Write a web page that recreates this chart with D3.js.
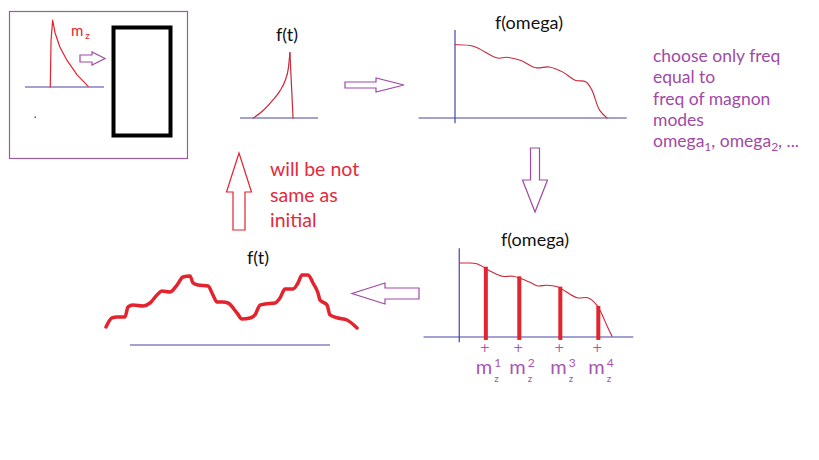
<!DOCTYPE html>
<html>
<head>
<meta charset="utf-8">
<script src="https://cdn.jsdelivr.net/npm/d3@7"></script>
<style>
  body { margin: 0; background: #fff; }
  svg { display: block; font-family: Lato, 'Open Sans', sans-serif; }
</style>
</head>
<body>
<svg id="chart" width="819" height="460"></svg>
<script>
// ---- data (time / frequency in arbitrary units 0..10, amplitude 0..10) ----
const mzTime = [3.2, 3.3, 3.5, 3.8, 4.4, 5.3, 6.6, 8.0]
const mzValue = [0, 7, 10, 8.1, 6, 4, 1.8, 0.1]

const pulseTime = [1.7, 2.9, 4.2, 5.1, 5.8, 6.2, 6.4, 6.8]
const pulseValue = [0, 1.1, 2.8, 4.2, 5.9, 7.8, 10.2, 0]

const specOmega = [0, 1.2, 2.8, 3.4, 4.3, 5.3, 6.2, 7.1, 7.9, 8.6, 9.0, 9.5, 10]
const specValue = [9.9, 9.7, 8.1, 8.2, 7.8, 6.8, 6.9, 6.2, 5.1, 4.9, 3.8, 1.1, 0]

const spec2Omega = [0, 0.5, 1.1, 2.0, 2.8, 3.5, 4.6, 5.1, 5.7, 6.4, 7.7, 8.4, 9.0, 9.7, 10]
const spec2Value = [10, 10, 9.9, 8.9, 8.2, 8.2, 7.4, 6.9, 7.0, 6.8, 5.3, 5.3, 4.3, 1.4, 0.1]

const modeOmega = [1.7, 3.9, 6.6, 9.1]
const modeValue = [9.5, 8.2, 6.8, 4.2]
const modeLabels = ['1', '2', '3', '4']

const recTime = [-1.2, -0.9, -0.65, -0.25, -0.1, 0.15, 0.65, 1.0, 1.35, 1.6, 2.0, 2.35, 2.65, 3.0,
  3.15, 3.4, 3.9, 4.15, 4.35, 4.65, 4.9, 5.35, 5.6, 6.0, 6.25, 6.5, 6.75, 7.25, 7.5, 7.75,
  8.15, 8.4, 8.6, 8.9, 9.15, 9.4, 9.5, 9.85, 10.0, 10.4, 10.85, 11.35]
const recValue = [2.57, 3.86, 4.0, 4.0, 5.43, 5.71, 5.57, 6.0, 7.14, 7.71, 7.57, 8.57, 9.71, 9.86,
  8.86, 8.57, 8.43, 7.14, 6.14, 6.14, 6.0, 4.57, 3.71, 3.86, 4.29, 5.71, 5.86, 6.0, 6.71, 8.0,
  8.0, 8.86, 10.0, 10.0, 8.86, 7.43, 6.43, 5.71, 4.29, 3.86, 3.57, 2.43]

const noteLines = ['choose only freq', 'equal to', 'freq of magnon', 'modes']
const redLines = ['will be not', 'same as', 'initial']

const BLUE = '#4545a5'
const RED = '#e3232d'
const PURPLE = '#a04aa5'

const svg = d3.select('#chart')
svg.append('rect').attr('width', 819).attr('height', 460).attr('fill', '#fff')

/**
 * Draws an outlined block arrow from tail to tip
 */
function blockArrow (x1, y1, x2, y2, sw, hw, hl, color) {
  const len = Math.hypot(x2 - x1, y2 - y1)
  const ang = Math.atan2(y2 - y1, x2 - x1) * 180 / Math.PI
  const pts = [[0, -sw], [len - hl, -sw], [len - hl, -hw], [len, 0],
    [len - hl, hw], [len - hl, sw], [0, sw]]
  svg.append('polygon')
    .attr('points', pts.map(p => p.join(',')).join(' '))
    .attr('transform', 'translate(' + x1 + ',' + y1 + ') rotate(' + ang + ')')
    .attr('fill', '#fff')
    .attr('stroke', color)
    .attr('stroke-width', 1.2)
}

function hline (x, y, xMin, xMax) {
  svg.append('line').attr('x1', x(xMin)).attr('x2', x(xMax))
    .attr('y1', y(0)).attr('y2', y(0))
    .attr('stroke', BLUE).attr('stroke-width', 1.2)
}

function vline (x, y, yMin, yMax) {
  svg.append('line').attr('x1', x(0)).attr('x2', x(0))
    .attr('y1', y(yMin)).attr('y2', y(yMax))
    .attr('stroke', BLUE).attr('stroke-width', 1.2)
}

function curve (xs, ys, x, y, color, width, type) {
  const pts = xs.map((d, i) => [x(d), y(ys[i])])
  svg.append('path')
    .attr('d', d3.line().curve(type)(pts))
    .attr('fill', 'none')
    .attr('stroke', color)
    .attr('stroke-width', width)
    .attr('stroke-linejoin', 'round')
    .attr('stroke-linecap', 'round')
}

function title (txt, cx, by) {
  svg.append('text').attr('x', cx).attr('y', by)
    .attr('text-anchor', 'middle').attr('font-size', 18).attr('fill', '#111')
    .text(txt)
}

// ---- panel 1 : initial m_z pulse into the sample ----
svg.append('rect').attr('x', 9.5).attr('y', 11.5).attr('width', 178).attr('height', 147)
  .attr('fill', 'none').attr('stroke', '#9a5a9e').attr('stroke-width', 1.2)
svg.append('rect').attr('x', 113.5).attr('y', 27.5).attr('width', 57).attr('height', 108)
  .attr('fill', 'none').attr('stroke', '#000').attr('stroke-width', 4)

const mzX = d3.scaleLinear().domain([0, 10]).range([25, 104])
const mzY = d3.scaleLinear().domain([0, 10]).range([87, 20])
hline(mzX, mzY, 0, 10)
curve(mzTime, mzValue, mzX, mzY, RED, 1.2, d3.curveLinear)
const mzLbl = svg.append('text').attr('x', 71).attr('y', 36).attr('fill', RED).attr('font-size', 15)
mzLbl.append('tspan').text('m')
mzLbl.append('tspan').attr('dx', 2).attr('dy', 3).attr('font-size', 10).text('z')
svg.append('rect').attr('x', 34.5).attr('y', 116.5).attr('width', 1.5).attr('height', 1.5).attr('fill', '#555')
blockArrow(80, 58.5, 105, 58.5, 3.5, 6.5, 13, PURPLE)

// ---- panel 2 : f(t) ----
const pX = d3.scaleLinear().domain([0, 10]).range([240, 318])
const pY = d3.scaleLinear().domain([0, 10]).range([118, 54])
hline(pX, pY, 0, 10)
curve(pulseTime.slice(0, 7), pulseValue.slice(0, 7), pX, pY, '#c8283a', 1.2, d3.curveMonotoneX)
curve(pulseTime.slice(6), pulseValue.slice(6), pX, pY, '#c8283a', 1.2, d3.curveLinear)
title('f(t)', 287, 41)

blockArrow(345, 85, 404, 85, 3, 7, 28, PURPLE)

// ---- panel 3 : f(omega) ----
const sX = d3.scaleLinear().domain([0, 10]).range([455, 607])
const sY = d3.scaleLinear().domain([0, 10]).range([118, 44])
hline(sX, sY, -2.4, 11.3)
vline(sX, sY, -0.7, 11.9)
curve(specOmega, specValue, sX, sY, '#c8283a', 1.1, d3.curveCatmullRom)
title('f(omega)', 529, 29)

// note text on the right
const note = svg.append('g').attr('fill', PURPLE).attr('font-size', 17.5)
noteLines.forEach((t, i) => {
  note.append('text').attr('x', 653).attr('y', 62 + i * 21.3).text(t)
})
const last = note.append('text').attr('x', 653).attr('y', 62 + 4 * 21.3)
last.append('tspan').text('omega')
last.append('tspan').attr('dy', 4).attr('font-size', 12).text('1')
last.append('tspan').attr('dy', -4).text(', omega')
last.append('tspan').attr('dy', 4).attr('font-size', 12).text('2')
last.append('tspan').attr('dy', -4).text(', ...')

blockArrow(535, 148, 535, 212, 4.5, 12.5, 32, PURPLE)

// ---- panel 4 : sampled spectrum ----
const s2X = d3.scaleLinear().domain([0, 10]).range([460, 612])
const s2Y = d3.scaleLinear().domain([0, 10]).range([337, 263])
hline(s2X, s2Y, -2.4, 11.4)
svg.append('line').attr('x1', s2X(-0.05)).attr('x2', s2X(-0.05))
  .attr('y1', s2Y(-0.7)).attr('y2', s2Y(12))
  .attr('stroke', BLUE).attr('stroke-width', 1.2)
curve(spec2Omega, spec2Value, s2X, s2Y, '#c8283a', 1.1, d3.curveCatmullRom)
svg.append('g').selectAll('line').data(modeOmega).join('line')
  .attr('x1', d => s2X(d)).attr('x2', d => s2X(d))
  .attr('y1', (d, i) => s2Y(modeValue[i])).attr('y2', s2Y(-0.4))
  .attr('stroke', RED).attr('stroke-width', 4)
title('f(omega)', 535, 246)

// mode labels m_z^n under each selected frequency
const lbl = svg.append('g').attr('fill', '#a855b5').selectAll('g').data(modeOmega).join('g')
  .attr('transform', d => 'translate(' + (s2X(d) - 1) + ',0)')
lbl.append('text').attr('x', 0).attr('y', 351.5).attr('text-anchor', 'middle')
  .attr('font-family', 'DejaVu Sans').attr('font-size', 12.5).text('+')
lbl.append('text').attr('x', -9).attr('y', 374).attr('font-size', 20).text('m')
lbl.append('text').attr('x', 9.5).attr('y', 367).attr('font-size', 12)
  .text((d, i) => modeLabels[i])
lbl.append('text').attr('x', 9.5).attr('y', 381.5).attr('font-size', 10).text('z')

blockArrow(419, 293.5, 352, 293.5, 5.5, 10.5, 33, PURPLE)

// ---- panel 5 : reconstructed f(t) ----
const rX = d3.scaleLinear().domain([0, 10]).range([130, 330])
const rY = d3.scaleLinear().domain([0, 10]).range([345, 275])
hline(rX, rY, 0, 10)
curve(recTime, recValue, rX, rY, RED, 3.5, d3.curveMonotoneX)
title('f(t)', 258, 264)

blockArrow(239, 230, 239, 153, 6, 12.5, 39, RED)
const red = svg.append('g').attr('fill', '#e42a3c').attr('font-size', 19.5)
redLines.forEach((t, i) => {
  red.append('text').attr('x', 270).attr('y', 176 + i * 25.5).text(t)
})
</script>
</body>
</html>
